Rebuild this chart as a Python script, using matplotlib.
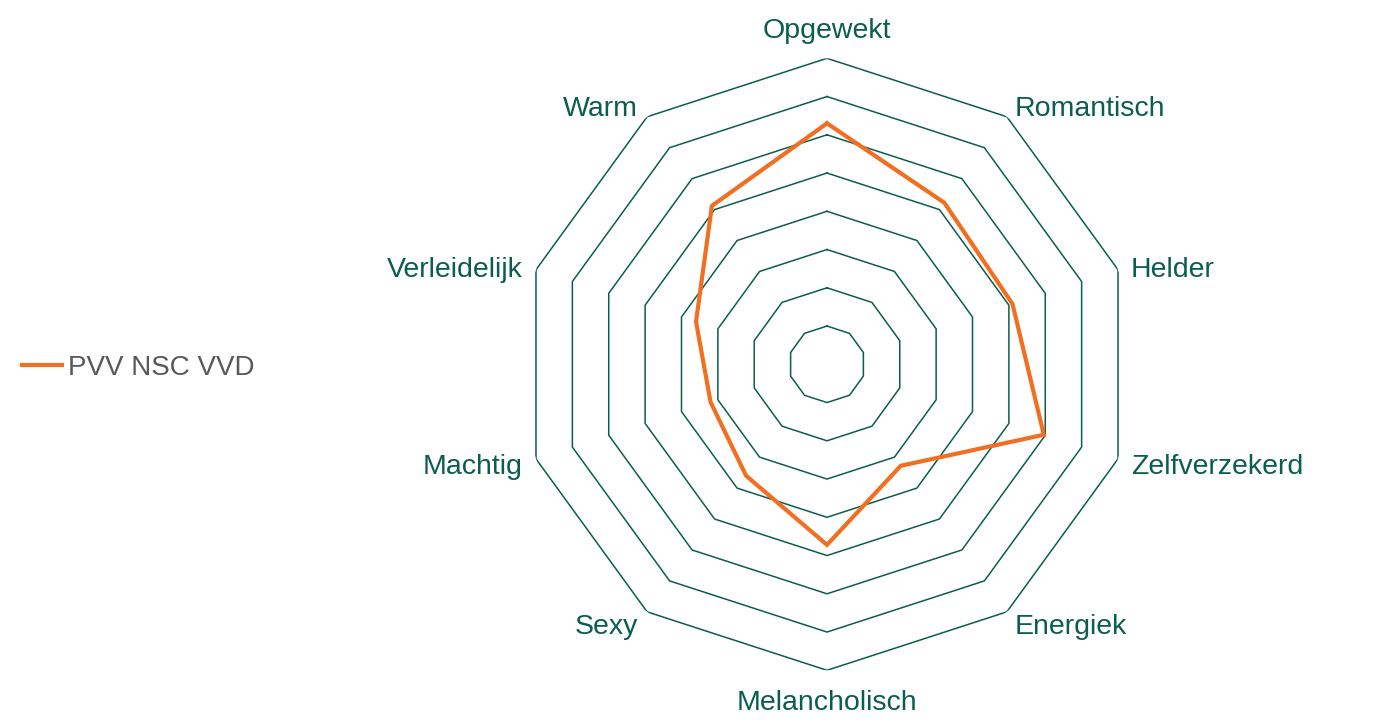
import numpy as np
import matplotlib
matplotlib.use('Agg')
import matplotlib.pyplot as plt

# categorieen en waarden
categorieen = ['Opgewekt', 'Romantisch', 'Helder', 'Zelfverzekerd', 'Energiek',
               'Melancholisch', 'Sexy', 'Machtig', 'Verleidelijk', 'Warm']
waarden = [31.5, 26.1, 25.5, 29.8, 16.4, 23.6, 18.0, 16.0, 18.0, 25.6]
serie_naam = 'PVV NSC VVD'
ringen = [5, 10, 15, 20, 25, 30, 35, 40]

groen = '#0b5e4f'
oranje = '#f26f21'

plt.rcParams['font.family'] = ['Liberation Sans', 'DejaVu Sans']

fig = plt.figure(figsize=(13.91, 7.27), dpi=100)
cx, cy = 827 / 1391, 1 - 364.3 / 727
w, h = 612 / 1391, 612 / 727
ax = fig.add_axes([cx - w / 2, cy - h / 2, w, h], projection='polar')
ax.set_theta_zero_location('N')
ax.set_theta_direction(-1)

n = len(categorieen)
hoeken = np.linspace(0, 2 * np.pi, n, endpoint=False)
hoeken_dicht = np.append(hoeken, hoeken[0])

# veelhoek rasterlijnen
for r in ringen:
    ax.plot(hoeken_dicht, [r] * (n + 1), color=groen, lw=1.1, zorder=1)

lijn, = ax.plot(hoeken_dicht, waarden + [waarden[0]], color=oranje, lw=3,
                zorder=3, solid_joinstyle='miter')

ax.set_ylim(0, ringen[-1])
ax.grid(False)
ax.spines['polar'].set_visible(False)
ax.set_xticks([])
ax.set_yticks([])
ax.patch.set_alpha(0)

# labels
offsets = [(0, 27, 'center'), (8, 8, 'left'), (13, 0, 'left'), (13, -8, 'left'),
           (8, -15, 'left'), (0, -33, 'center'), (-9, -15, 'right'),
           (-13, -8, 'right'), (-13, 0, 'right'), (-9, 8, 'right')]
for hoek, naam, (dx, dy, ha) in zip(hoeken, categorieen, offsets):
    ax.annotate(naam, xy=(hoek, ringen[-1]), xytext=(dx, dy),
                textcoords='offset pixels', ha=ha, va='center',
                color=groen, fontsize=20.5, annotation_clip=False)

# legenda
fig.legend([lijn], [serie_naam], loc='center left',
           bbox_to_anchor=(-0.002, 1 - 368 / 727), frameon=False,
           fontsize=20, handlelength=1.45, handletextpad=0.2,
           labelcolor='#595959')

fig.savefig('out.png', dpi=100)
